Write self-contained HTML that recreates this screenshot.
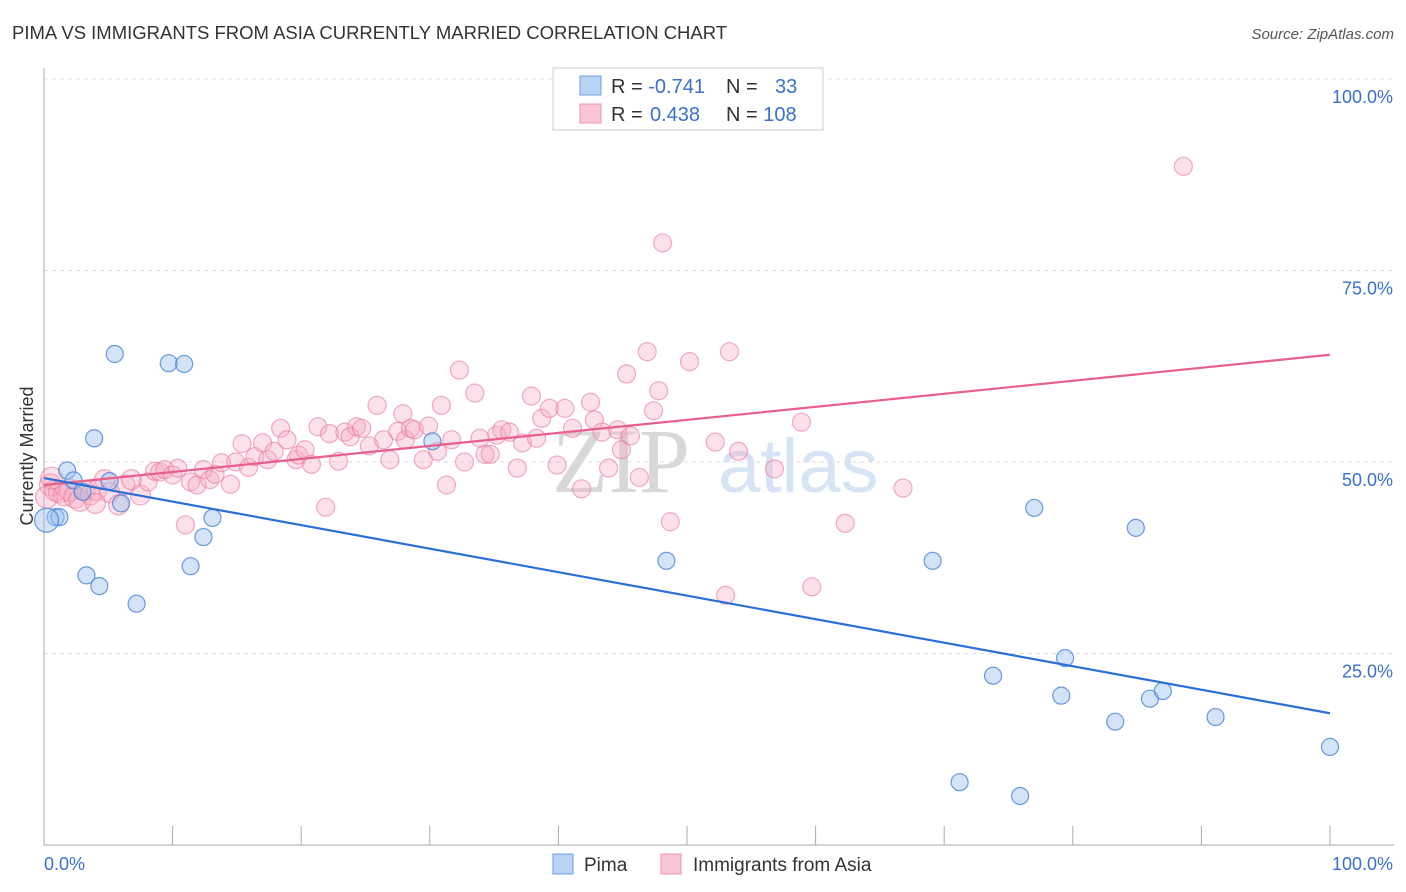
<!DOCTYPE html>
<html><head><meta charset="utf-8">
<style>
body{margin:0;background:#fff;font-family:"Liberation Sans",sans-serif;}
#wrap{position:relative;width:1406px;height:892px;overflow:hidden;}
</style></head>
<body>
<div id="wrap">
<svg id="svg" width="1406" height="892" xmlns="http://www.w3.org/2000/svg">
  <text x="12" y="39" font-size="18.5" fill="#333">PIMA VS IMMIGRANTS FROM ASIA CURRENTLY MARRIED CORRELATION CHART</text>
  <text x="1394" y="39" font-size="15" fill="#555" font-style="italic" text-anchor="end">Source: ZipAtlas.com</text>
  <text x="33" y="456" font-size="18" fill="#333" transform="rotate(-90 33 456)" text-anchor="middle">Currently Married</text>
  <text x="552" y="492" font-size="92" fill="#d8d8d8" font-family="Liberation Serif, serif">ZIP</text>
  <text x="718" y="492" font-size="76" fill="#d6e4f5">atlas</text>
  <g id="grid"></g>
  <g id="axes"></g>
  <g id="pinkPts"></g>
  <g id="bluePts"></g>
  <g id="lines"></g>
  <g>
    <rect x="553" y="68" width="270" height="62" fill="#fff" stroke="#ccc"/>
    <rect x="580" y="76" width="21" height="19" fill="#b9d3f5" stroke="#6a9fe0"/>
    <rect x="580" y="104" width="21" height="19" fill="#fac6d6" stroke="#ef94b0"/>
    <text x="611" y="93" font-size="20" fill="#333">R = <tspan fill="#3a70cc">-0.741</tspan></text>
    <text x="726" y="93" font-size="20" fill="#333">N = <tspan fill="#3a70cc" x="775">33</tspan></text>
    <text x="611" y="121" font-size="20" fill="#333">R = <tspan fill="#3a70cc" x="650">0.438</tspan></text>
    <text x="726" y="121" font-size="20" fill="#333">N = <tspan fill="#3a70cc">108</tspan></text>
  </g>
  <g>
    <rect x="553" y="854" width="20" height="20" fill="#b9d3f5" stroke="#6a9fe0"/>
    <text x="584" y="871" font-size="19" fill="#333">Pima</text>
    <rect x="661" y="854" width="20" height="20" fill="#fac6d6" stroke="#ef94b0"/>
    <text x="693" y="871" font-size="19" fill="#333">Immigrants from Asia</text>
  </g>
</svg>
</div>
<script>
const yTicks=[25,50,75,100];
const yTickLabels=["25.0%","50.0%","75.0%","100.0%"];
const xTicks=[0,10,20,30,40,50,60,70,80,90,100];
const xEndLabels=["0.0%","100.0%"];
const pimaX=[5.5,9.7,10.9,3.9,1.8,2.3,5.1,0.9,1.2,0.2,6.0,13.1,12.4,11.4,3.3,4.3,7.2,30.2,48.4,69.1,77.0,84.9,79.4,73.8,79.1,86.0,87.0,83.3,91.1,100,71.2,75.9,3.0];
const pimaY=[64.1,62.9,62.8,53.1,48.9,47.6,47.5,42.8,42.8,42.4,44.6,42.7,40.2,36.4,35.2,33.8,31.5,52.7,37.1,37.1,44.0,41.4,24.4,22.1,19.5,19.1,20.1,16.1,16.7,12.8,8.2,6.4,46.1];
const asiaX=[0.5,0.9,1.2,1.6,2.0,2.4,2.8,3.2,3.6,4.1,4.7,5.1,5.8,6.3,6.8,7.5,8.1,8.6,9.0,9.4,10.0,10.4,11.0,11.4,11.9,12.4,12.9,13.3,13.8,14.5,14.9,15.4,15.9,16.4,17.0,17.4,17.9,18.4,18.9,19.6,19.8,20.3,20.8,21.3,21.9,22.2,22.9,23.4,23.8,24.3,24.7,25.3,25.9,26.4,26.9,27.5,27.9,28.1,28.5,28.8,29.5,29.9,30.6,30.9,31.3,31.7,32.3,32.7,33.5,33.9,34.3,34.7,35.2,35.6,36.2,36.8,37.2,37.9,38.3,38.7,39.3,39.9,40.5,41.1,41.8,42.5,42.8,43.4,43.9,44.6,44.9,45.3,45.6,46.3,46.9,47.4,47.8,48.1,48.7,50.2,52.2,53.0,53.3,54.0,56.8,58.9,59.7,62.3,66.8,88.6,4.0,0.2,0.6];
const asiaY=[47.0,46.3,46.1,45.7,46.3,45.4,45.0,46.3,45.7,46.3,47.7,46.0,44.4,47.0,47.7,45.7,47.4,48.8,48.7,49.0,48.3,49.2,41.8,47.4,47.0,49.0,47.7,48.4,49.9,47.1,50.0,52.4,49.3,50.7,52.5,50.3,51.4,54.4,52.9,50.3,50.9,51.6,49.7,54.6,44.1,53.7,50.1,53.9,53.3,54.6,54.4,52.1,57.4,52.9,50.3,54.0,56.3,52.9,54.4,54.2,50.3,54.7,51.4,57.4,47.0,52.9,62.0,50.0,59.0,53.1,51.0,51.0,53.5,54.2,53.9,49.2,52.5,58.6,53.1,55.7,57.0,49.6,57.0,54.4,46.5,57.8,55.5,53.9,49.2,54.2,51.6,61.5,53.4,48.0,64.4,56.7,59.3,78.6,42.2,63.1,52.6,32.6,64.4,51.4,49.1,55.2,33.7,42.0,46.6,88.6,44.6,45.4,47.9];
const pimaTrend=[47.9,17.2];
const asiaTrend=[47.0,64.0];
const trendX=[0,100];

const X=v=>44+v*12.86;
const Y=v=>845-v*7.66;
const NS="http://www.w3.org/2000/svg";
function mk(tag,attrs,parent){const e=document.createElementNS(NS,tag);for(const k in attrs)e.setAttribute(k,attrs[k]);parent.appendChild(e);return e;}
const grid=document.getElementById('grid'),axes=document.getElementById('axes');
yTicks.forEach((t,i)=>{
  const l=mk('line',{x1:44,x2:1394,y1:Y(t),y2:Y(t),stroke:'#ddd','stroke-dasharray':'4 4'},grid);
  
  
  const tx=mk('text',{x:1393,y:Y(t)+24,'font-size':18,fill:'#3a70cc','text-anchor':'end'},axes);
  tx.textContent=yTickLabels[i];
  
  
});
const ya=mk('line',{x1:44,x2:44,y1:68,y2:845,stroke:'#aaa'},axes);


const xa=mk('line',{x1:44,x2:1394,y1:845,y2:845,stroke:'#aaa'},axes);


xTicks.forEach(t=>{
  const l=mk('line',{x1:X(t),x2:X(t),y1:826,y2:845,stroke:'#aaa'},axes);
  
  
});
const xl0=mk('text',{x:44,y:870,'font-size':18,fill:'#3a70cc'},axes);
xl0.textContent=xEndLabels[0];


const xl1=mk('text',{x:1393,y:870,'font-size':18,fill:'#3a70cc','text-anchor':'end'},axes);
xl1.textContent=xEndLabels[1];



const pp=document.getElementById('pinkPts');
asiaX.forEach((x,i)=>{
  const r=x<8?(x<3?11:10):9;
  const c=mk('circle',{cx:X(x),cy:Y(asiaY[i]),r:r,fill:'rgba(246,170,195,0.35)',stroke:'rgba(232,120,155,0.6)','stroke-width':1.2},pp);
  
  
});
const bp=document.getElementById('bluePts');
pimaX.forEach((x,i)=>{
  const c=mk('circle',{cx:X(x),cy:Y(pimaY[i]),r:x<0.5?12:8.5,fill:'rgba(160,195,240,0.45)',stroke:'rgba(70,130,215,0.8)','stroke-width':1.2},bp);
  
  
});
const lg=document.getElementById('lines');
const la=mk('line',{x1:X(trendX[0]),y1:Y(asiaTrend[0]),x2:X(trendX[1]),y2:Y(asiaTrend[1]),stroke:'#e8608a','stroke-width':2.2},lg);


const lp=mk('line',{x1:X(trendX[0]),y1:Y(pimaTrend[0]),x2:X(trendX[1]),y2:Y(pimaTrend[1]),stroke:'#2a6fd6','stroke-width':2.2},lg);


</script>
</body></html>
